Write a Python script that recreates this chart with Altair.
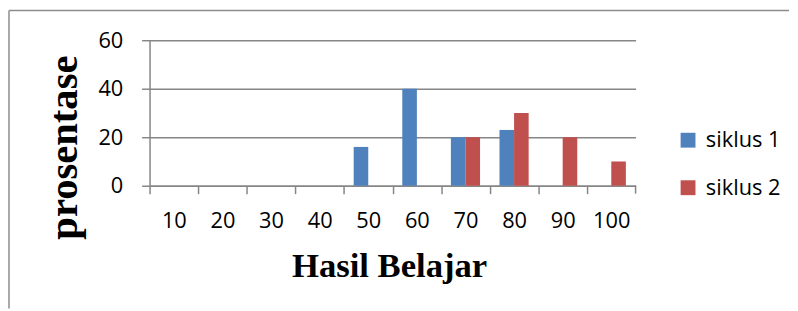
import altair as alt
import pandas as pd

categories = ["10", "20", "30", "40", "50", "60", "70", "80", "90", "100"]
siklus_1 = [0, 0, 0, 0, 16, 40, 20, 23, 0, 0]
siklus_2 = [0, 0, 0, 0, 0, 0, 20, 30, 20, 10]
series_names = ["siklus 1", "siklus 2"]
colors = ["#4F81BD", "#C0504D"]
y_ticks = [0, 20, 40, 60]

rows = []
for c, a, b in zip(categories, siklus_1, siklus_2):
    rows.append({"Hasil": c, "series": "siklus 1", "value": a})
    rows.append({"Hasil": c, "series": "siklus 2", "value": b})
df = pd.DataFrame(rows)
df = df[df["value"] > 0]

W, H = 491, 147
step = W / len(categories)
grid = "#868686"
label_font = "Open Sans"
title_font = "Liberation Serif"

bars = alt.Chart(df).mark_bar().encode(
    x=alt.X(
        "Hasil:N",
        sort=categories,
        scale=alt.Scale(domain=categories, paddingInner=0.4, paddingOuter=0.2),
        axis=alt.Axis(
            title="Hasil Belajar",
            labelAngle=0,
            tickSize=8,
            tickOffset=-step / 2,
            labelOffset=step / 2,
            labelPadding=17,
            labelFontSize=22,
            labelFont=label_font,
            labelColor="black",
            domainColor=grid,
            tickColor=grid,
            domainWidth=1.5,
            tickWidth=1.5,
            titleFont=title_font,
            titleFontSize=35,
            titleFontWeight="bold",
            titleColor="black",
            titleX=242,
            titleY=92,
            titleBaseline="alphabetic",
        ),
    ),
    xOffset=alt.XOffset(
        "series:N",
        sort=series_names,
        scale=alt.Scale(domain=series_names, paddingInner=0, paddingOuter=0),
    ),
    y=alt.Y(
        "value:Q",
        scale=alt.Scale(domain=[0, 60], nice=False),
        axis=alt.Axis(
            values=y_ticks,
            title="prosentase",
            tickSize=8,
            labelPadding=19,
            labelFontSize=22,
            labelFont=label_font,
            labelColor="black",
            domainColor=grid,
            tickColor=grid,
            gridColor=grid,
            domainWidth=1.5,
            tickWidth=1.5,
            gridWidth=1.5,
            titleFont=title_font,
            titleFontSize=41,
            titleFontWeight="bold",
            titleColor="black",
            titleAngle=270,
            titleX=-74,
            titleY=108,
            titleAlign="center",
            titleBaseline="alphabetic",
        ),
    ),
    color=alt.Color(
        "series:N",
        scale=alt.Scale(domain=series_names, range=colors),
        legend=alt.Legend(
            title=None,
            orient="none",
            legendX=533,
            legendY=90,
            symbolType="square",
            symbolSize=225,
            symbolStrokeWidth=0,
            labelFontSize=22,
            labelFont=label_font,
            labelColor="black",
            rowPadding=26,
            labelOffset=7,
            padding=0,
        ),
    ),
)

one = alt.Data(values=[{}])
border_top = alt.Chart(one).mark_rule(color="#8c8c8c", strokeWidth=1.5).encode(
    x=alt.value(-142), x2=alt.value(646), y=alt.value(-30)
)
border_left = alt.Chart(one).mark_rule(color="#8c8c8c", strokeWidth=1.5).encode(
    x=alt.value(-142), y=alt.value(-30), y2=alt.value(271)
)
end_tick = alt.Chart(one).mark_rule(color=grid, strokeWidth=1.5).encode(
    x=alt.value(W), y=alt.value(H), y2=alt.value(H + 8)
)

chart = (
    alt.layer(bars, end_tick, border_top, border_left)
    .properties(width=W, height=H, padding=0)
    .configure_view(stroke=None)
)

chart.save("out.html", embed_options={"renderer": "svg", "actions": False})
